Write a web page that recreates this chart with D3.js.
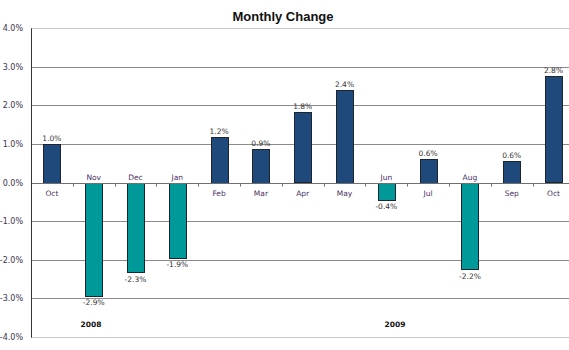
<!DOCTYPE html>
<html>
<head>
<meta charset="utf-8">
<script src="https://cdn.jsdelivr.net/npm/d3@7"></script>
<style>
  body { margin: 0; background: #fff; }
  svg { display: block; }
</style>
</head>
<body>
<svg width="569" height="350"></svg>
<script>
// data
var months = ["Oct", "Nov", "Dec", "Jan", "Feb", "Mar", "Apr", "May", "Jun", "Jul", "Aug", "Sep", "Oct"];
var values = [1.0, -2.93, -2.32, -1.94, 1.19, 0.87, 1.82, 2.41, -0.44, 0.61, -2.24, 0.56, 2.76];
var yTicks = [4, 3, 2, 1, 0, -1, -2, -3, -4];
var years = ["2008", "2009"];

var width = 569, height = 350;
var left = 31, step = 41.8;

var svg = d3.select("svg");

var x = d3.scaleBand()
    .domain(d3.range(months.length))
    .range([left, left + step * months.length])
    .paddingInner(0.59)
    .paddingOuter(0.295);

var y = d3.scaleLinear()
    .domain([-4, 4])
    .range([336.7, 28.3]);

// plain hyphen for negatives, like the original
var fmt = d3.formatLocale({decimal: ".", thousands: ",", grouping: [3], currency: ["", ""], minus: "-"}).format(".1f");

// title
svg.append("text")
    .attr("x", 283)
    .attr("y", 21)
    .attr("text-anchor", "middle")
    .style("font", "bold 13px 'Liberation Sans', Arial, sans-serif")
    .style("fill", "#111")
    .text("Monthly Change");

// gridlines
svg.append("g").selectAll("line")
    .data(yTicks.filter(function(d) { return d !== 0; }))
    .enter().append("line")
    .attr("x1", left)
    .attr("x2", width)
    .attr("y1", function(d) { return Math.round(y(d)) + 0.5; })
    .attr("y2", function(d) { return Math.round(y(d)) + 0.5; })
    .style("stroke", function(d) { return Math.abs(d) === 4 ? "#c8c8c8" : "#8a8a8a"; })
    .style("stroke-width", 1);

// y tick labels
svg.append("g").selectAll("text")
    .data(yTicks)
    .enter().append("text")
    .attr("x", 23)
    .attr("y", function(d) { return y(d) + 3; })
    .attr("text-anchor", "end")
    .style("font", "8px 'DejaVu Sans', Verdana, sans-serif")
    .style("fill", "#3d3350")
    .text(function(d) { return fmt(d) + "%"; });

// bars
svg.append("g").selectAll("rect")
    .data(values)
    .enter().append("rect")
    .attr("x", function(d, i) { return Math.round(x(i)) + 0.5; })
    .attr("width", Math.round(x.bandwidth()))
    .attr("y", function(d) { return Math.round(y(Math.max(0, d))) + 0.5; })
    .attr("height", function(d) { return Math.round(Math.abs(y(d) - y(0))); })
    .style("fill", function(d) { return d >= 0 ? "#1f487b" : "#00999a"; })
    .style("stroke", "#1c2530")
    .style("stroke-width", 1);

// zero line with category tick marks
var zeroY = Math.round(y(0)) + 0.5;
svg.append("line")
    .attr("x1", left).attr("x2", width)
    .attr("y1", zeroY).attr("y2", zeroY)
    .style("stroke", "#707070");

svg.append("g").selectAll("line")
    .data(d3.range(1, months.length))
    .enter().append("line")
    .attr("x1", function(i) { return Math.round(left + step * i) + 0.5; })
    .attr("x2", function(i) { return Math.round(left + step * i) + 0.5; })
    .attr("y1", zeroY)
    .attr("y2", zeroY + 3)
    .style("stroke", "#707070");

// y axis line
svg.append("line")
    .attr("x1", left + 0.5).attr("x2", left + 0.5)
    .attr("y1", y(4)).attr("y2", y(-4) + 1)
    .style("stroke", "#333");

// month labels
svg.append("g").selectAll("text")
    .data(months)
    .enter().append("text")
    .attr("x", function(d, i) { return x(i) + x.bandwidth() / 2; })
    .attr("y", function(d, i) { return values[i] >= 0 ? y(0) + 13 : y(0) - 3; })
    .attr("text-anchor", "middle")
    .style("font", "7.5px 'DejaVu Sans', Verdana, sans-serif")
    .style("fill", "#4a2f63")
    .text(function(d) { return d; });

// value labels
svg.append("g").selectAll("text")
    .data(values)
    .enter().append("text")
    .attr("x", function(d, i) { return x(i) + x.bandwidth() / 2; })
    .attr("y", function(d) { return d >= 0 ? y(d) - 3 : y(d) + 10; })
    .attr("text-anchor", "middle")
    .style("font", "7.5px 'DejaVu Sans', Verdana, sans-serif")
    .style("fill", "#333")
    .text(function(d) { return fmt(d) + "%"; });

// year labels
svg.append("g").selectAll("text")
    .data(years)
    .enter().append("text")
    .attr("x", function(d, i) { return i === 0 ? 91 : 395; })
    .attr("y", 327)
    .attr("text-anchor", "middle")
    .style("font", "bold 7.5px 'DejaVu Sans', Verdana, sans-serif")
    .style("fill", "#111")
    .text(function(d) { return d; });
</script>
</body>
</html>
